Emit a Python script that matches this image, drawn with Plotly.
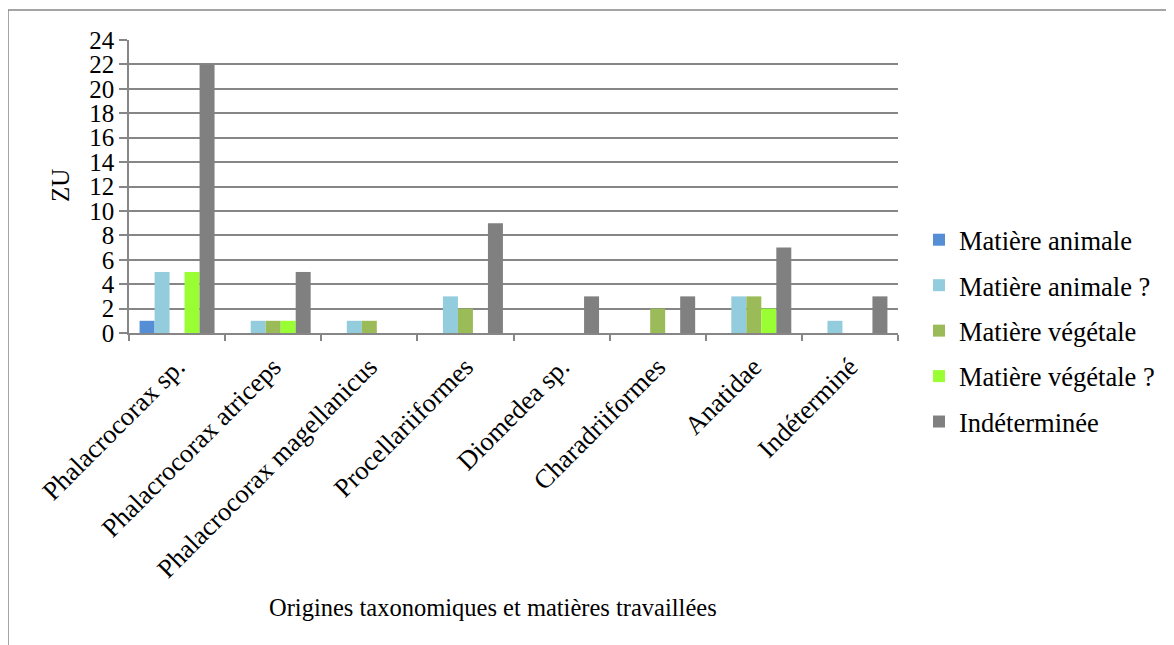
import plotly.graph_objects as go

categories = ["Phalacrocorax sp.", "Phalacrocorax atriceps", "Phalacrocorax magellanicus",
              "Procellariiformes", "Diomedea sp.", "Charadriiformes", "Anatidae", "Indéterminé"]
series_names = ["Matière animale", "Matière animale ?", "Matière végétale",
                "Matière végétale ?", "Indéterminée"]
matiere_animale = [1, 0, 0, 0, 0, 0, 0, 0]
matiere_animale_q = [5, 1, 1, 3, 0, 0, 3, 1]
matiere_vegetale = [0, 1, 1, 2, 0, 2, 3, 0]
matiere_vegetale_q = [5, 1, 0, 0, 0, 0, 2, 0]
indeterminee = [22, 5, 0, 9, 3, 3, 7, 3]
colors = ["#558ED5", "#93CDDD", "#9BBB59", "#99FF33", "#808080"]
y_ticks = list(range(0, 25, 2))

series_values = [matiere_animale, matiere_animale_q, matiere_vegetale, matiere_vegetale_q, indeterminee]

FONT = "Liberation Serif, Times New Roman, serif"
FS_TICK = 26.5
FS_LEG = 26.5
FS_TITLE = 24.5
FS_Y = 25

fig = go.Figure()
for name, vals, col in zip(series_names, series_values, colors):
    fig.add_trace(go.Bar(x=categories, y=vals, name=name, marker_color=col,
                         marker_line_width=0, legendgroup=name))

# page body has an 8px offset; target pixel coords are in window space
OFF = 8
W, H = 1174 - OFF, 645 - OFF
L, T = 129 - OFF, 40 - OFF
pw, ph = 769, 293
R, B = W - L - pw, H - T - ph

def px_x(p):
    return (p - OFF - L) / pw

def px_y(p):
    return (T + ph - (p - OFF)) / ph

fig.update_layout(
    width=W, height=H,
    margin=dict(l=L, r=R, t=T, b=B, autoexpand=False),
    plot_bgcolor="white", paper_bgcolor="white",
    font=dict(family=FONT, size=FS_TICK, color="black"),
    barmode="group", bargap=0.22, bargroupgap=0,
    showlegend=True,
    legend=dict(x=px_x(919), xanchor="left", y=px_y(331), yanchor="middle",
                tracegroupgap=8, font=dict(family=FONT, size=FS_LEG, color="black"),
                bgcolor="rgba(0,0,0,0)"),
    xaxis=dict(tickangle=-45, showline=True, linecolor="#868686", linewidth=1.5,
               ticks="outside", ticklen=6, tickcolor="#868686", tickwidth=1.5,
               tickson="boundaries", showgrid=False, automargin=False,
               ticklabelstandoff=6,
               tickfont=dict(family=FONT, size=FS_TICK, color="black")),
    yaxis=dict(range=[0, 24], tickvals=y_ticks, showline=True, linecolor="#868686",
               linewidth=1.5, ticks="outside", ticklen=8, tickcolor="#868686", tickwidth=1.5,
               showgrid=True, gridcolor="#868686", gridwidth=1.5, zeroline=False,
               automargin=False, tickfont=dict(family=FONT, size=FS_Y, color="black")),
    annotations=[
        dict(text="Origines taxonomiques et matières travaillées", xref="paper", yref="paper",
             x=px_x(493), y=px_y(607), xanchor="center", yanchor="middle", showarrow=False,
             font=dict(family=FONT, size=FS_TITLE, color="black")),
        dict(text="ZU", xref="paper", yref="paper", x=px_x(60), y=px_y(186),
             xanchor="center", yanchor="middle", textangle=-90, showarrow=False,
             font=dict(family=FONT, size=FS_Y, color="black")),
    ],
    shapes=[
        dict(type="line", xref="paper", yref="paper", x0=px_x(8), x1=px_x(1180),
             y0=px_y(10), y1=px_y(10), line=dict(color="#868686", width=1.5)),
        dict(type="line", xref="paper", yref="paper", x0=px_x(8), x1=px_x(8),
             y0=px_y(10), y1=px_y(650), line=dict(color="#868686", width=1.5)),
    ],
)

fig.write_html("out.html")
